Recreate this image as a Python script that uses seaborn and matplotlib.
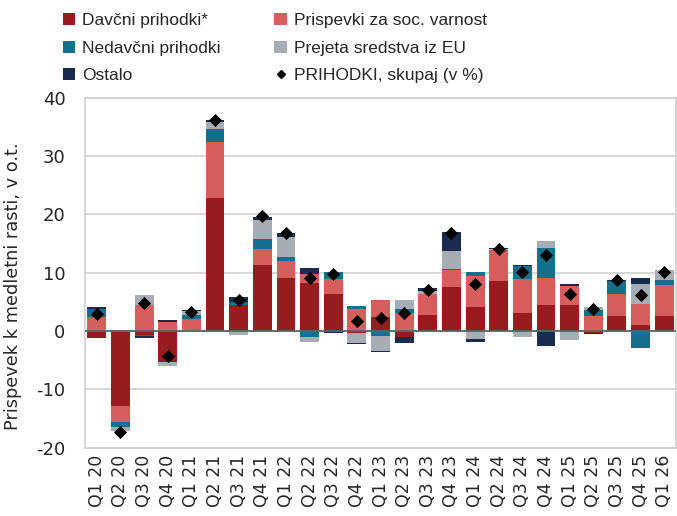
import numpy as np
import matplotlib
matplotlib.use("Agg")
import matplotlib.pyplot as plt
import seaborn as sns
from matplotlib.patches import Patch
from matplotlib.lines import Line2D

quarters = ["Q1 20", "Q2 20", "Q3 20", "Q4 20", "Q1 21", "Q2 21", "Q3 21", "Q4 21",
            "Q1 22", "Q2 22", "Q3 22", "Q4 22", "Q1 23", "Q2 23", "Q3 23", "Q4 23",
            "Q1 24", "Q2 24", "Q3 24", "Q4 24", "Q1 25", "Q2 25", "Q3 25", "Q4 25", "Q1 26"]

davcni = [-1.2, -12.9, -0.6, -5.3, 0.0, 22.8, 4.5, 11.4, 9.1, 8.2, 6.4, -0.3, 2.4,
          -1.0, 2.7, 7.5, 4.1, 8.6, 3.1, 4.4, 4.4, -0.3, 2.6, 1.1, 2.6]
prispevki = [2.4, -2.7, 4.4, 1.5, 2.1, 9.6, 0.0, 2.7, 2.9, 1.6, 2.5, 3.7, 3.0,
             3.1, 3.7, 2.9, 5.4, 5.3, 5.8, 4.7, 3.3, 2.6, 3.7, 3.5, 5.3]
nedavcni = [1.4, -0.9, -0.3, 0.0, 0.6, 2.3, 0.4, 1.6, 0.7, -1.1, 1.25, 0.6, -0.9,
            0.75, 0.0, 0.3, 0.6, 0.0, 2.2, 5.2, 0.0, 1.0, 2.3, -2.9, 0.9]
eu = [0.0, -0.7, 1.8, -0.75, 0.7, 1.1, -0.6, 3.4, 3.4, -0.7, 0.0, -1.8, -2.5,
      1.5, 0.4, 3.1, -1.4, 0.2, -1.1, 1.1, -1.5, 0.5, 0.0, 3.4, 1.6]
ostalo = [0.3, 0.0, -0.3, 0.35, 0.2, 0.3, 0.9, 0.5, 0.7, 1.0, -0.4, -0.1, -0.2,
          -1.0, 0.5, 3.1, -0.5, 0.1, 0.3, -2.5, 0.35, -0.2, 0.2, 1.1, 0.0]
skupaj = [3.0, -17.3, 4.8, -4.2, 3.3, 36.1, 5.3, 19.7, 16.8, 9.1, 9.7, 1.8, 2.2,
          3.1, 7.1, 16.8, 8.0, 14.1, 10.1, 13.1, 6.4, 3.7, 8.7, 6.2, 10.1]

series = [
    ("Davčni prihodki*", davcni, "#981B1E"),
    ("Prispevki za soc. varnost", prispevki, "#D65E5C"),
    ("Nedavčni prihodki", nedavcni, "#136F8C"),
    ("Prejeta sredstva iz EU", eu, "#A6ADB4"),
    ("Ostalo", ostalo, "#1B2B50"),
]

sns.set_style("white")
plt.rcParams["font.family"] = ["DejaVu Sans"]
plt.rcParams["axes.unicode_minus"] = False

fig = plt.figure(figsize=(6.77, 5.16), dpi=100)
ax = fig.add_axes([0.1256, 0.1324, 0.8729, 0.6783])

x = np.arange(len(quarters))
pos = np.zeros(len(quarters))
neg = np.zeros(len(quarters))
# positive and negative parts are stacked separately
for name, vals, col in series:
    v = np.array(vals, dtype=float)
    p = np.where(v > 0, v, 0)
    n = np.where(v < 0, v, 0)
    ax.bar(x, p, bottom=pos, width=0.8, color=col, linewidth=0, zorder=2)
    ax.bar(x, n, bottom=neg, width=0.8, color=col, linewidth=0, zorder=2)
    pos += p
    neg += n

sns.scatterplot(x=x, y=skupaj, marker="D", s=45, color="black", linewidth=0,
                ax=ax, zorder=4, legend=False)

ax.axhline(0, color="#5F6368", linewidth=1.3, zorder=3)
ax.set_ylim(-20, 40)
ax.set_xlim(-0.5, len(quarters) - 0.5)
ax.set_yticks(range(-20, 41, 10))
ax.yaxis.grid(True, color="#D0D0D0", linewidth=1.2, zorder=0)
ax.set_xticks(x)
ax.set_xticklabels(quarters, rotation=90, fontsize=12.5)
ax.tick_params(axis="y", labelsize=13, length=0, pad=14)
ax.tick_params(axis="x", length=0, pad=5)
for s in ax.spines.values():
    s.set_color("#D0D0D0")
    s.set_linewidth(1.2)
ax.set_ylabel("Prispevek k medletni rasti, v o.t.", fontsize=12.8)
ax.yaxis.set_label_coords(-0.107, 0.46)

handles = {name: Patch(facecolor=col, edgecolor="none") for name, _, col in series}
tot = Line2D([], [], marker="D", color="black", linestyle="none", markersize=4.5)
order = ["Davčni prihodki*", "Nedavčni prihodki", "Ostalo",
         "Prispevki za soc. varnost", "Prejeta sredstva iz EU"]
hl = [handles[o] for o in order] + [tot]
labels = order + ["PRIHODKI, skupaj (v %)"]
fig.legend(hl, labels, ncol=2, loc="upper left", bbox_to_anchor=(0.070, 1.005),
           frameon=False, prop={"family": "Liberation Sans", "size": 12.5},
           handlelength=0.7, handleheight=0.7, handletextpad=0.4,
           columnspacing=3.1, labelspacing=0.71)

fig.savefig("out.png", dpi=100)
